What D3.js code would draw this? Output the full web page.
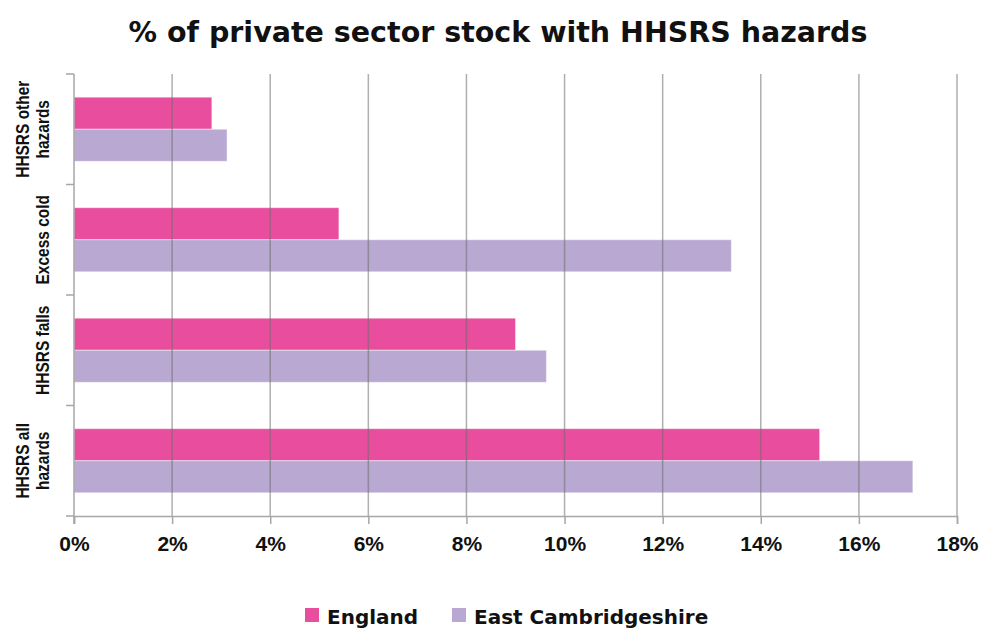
<!DOCTYPE html>
<html>
<head>
<meta charset="utf-8">
<script src="https://cdn.jsdelivr.net/npm/d3@7"></script>
<style>
  body { margin: 0; background: #fff; }
  svg { display: block; }
  .title { font-family: "DejaVu Sans", Verdana, sans-serif; font-weight: bold; }
  .tick text { font-family: "Liberation Sans", Arial, sans-serif; font-weight: bold; }
  .legend text { font-family: "DejaVu Sans", Verdana, sans-serif; font-weight: bold; }
</style>
</head>
<body>
<div id="chart"></div>
<script>
// categories, top to bottom
const categories = ["HHSRS other hazards", "Excess cold", "HHSRS falls", "HHSRS all hazards"];
const seriesNames = ["England", "East Cambridgeshire"];
const england = [2.81, 5.4, 9.0, 15.2];
const eastCambs = [3.12, 13.4, 9.63, 17.1];
const xTicks = [0, 2, 4, 6, 8, 10, 12, 14, 16, 18];
const colors = ["#e84d9e", "#b9a8d1"];

const W = 982, H = 629;
const margin = {top: 74, right: 25, bottom: 113, left: 74};
const width = W - margin.left - margin.right,
      height = H - margin.top - margin.bottom;

const svg = d3.select("#chart").append("svg")
    .attr("width", W)
    .attr("height", H);

svg.append("text")
    .attr("class", "title")
    .attr("x", 498)
    .attr("y", 42)
    .attr("text-anchor", "middle")
    .attr("font-size", 28.5)
    .attr("fill", "#111")
    .text("% of private sector stock with HHSRS hazards");

const g = svg.append("g")
    .attr("transform", "translate(" + margin.left + "," + margin.top + ")");

const x = d3.scaleLinear()
    .domain([0, 18])
    .range([0, width]);

const y = d3.scaleBand()
    .domain(categories)
    .range([0, height])
    .paddingInner(0.42)
    .paddingOuter(0.21);

const ySub = d3.scaleBand()
    .domain(seriesNames)
    .range([0, y.bandwidth()]);

const rows = categories.map((c, i) => ({cat: c, values: [england[i], eastCambs[i]]}));

// bars
const groups = g.selectAll(".cat")
    .data(rows)
    .join("g")
      .attr("class", "cat")
      .attr("transform", d => "translate(0," + y(d.cat) + ")");

groups.selectAll("rect")
    .data(d => d.values.map((v, j) => ({name: seriesNames[j], value: v, j: j})))
    .join("rect")
      .attr("x", x(0))
      .attr("y", d => ySub(d.name))
      .attr("width", d => x(d.value) - x(0))
      .attr("height", ySub.bandwidth())
      .attr("fill", d => colors[d.j])
      .attr("stroke", "rgba(255,255,255,0.45)")
      .attr("stroke-width", 1);

// gridlines drawn on top of the bars
g.append("g")
    .selectAll("line")
    .data(xTicks.slice(1))
    .join("line")
      .attr("x1", d => x(d)).attr("x2", d => x(d))
      .attr("y1", 0).attr("y2", height)
      .attr("stroke", "rgba(110,110,110,0.55)")
      .attr("stroke-width", 1.5);

// x axis
const xAxis = g.append("g")
    .attr("transform", "translate(0," + height + ")")
    .call(d3.axisBottom(x)
      .tickValues(xTicks)
      .tickSize(8)
      .tickPadding(12)
      .tickFormat(d => d + "%"));
xAxis.select(".domain").attr("stroke", "#a6a6a6").attr("stroke-width", 1.5);
xAxis.selectAll(".tick line").attr("stroke", "#a6a6a6").attr("stroke-width", 1.5);
xAxis.selectAll(".tick text").attr("font-size", 21).attr("fill", "#111");

// y axis: tick marks at the category boundaries
const yAxis = g.append("g");
yAxis.append("line")
    .attr("x1", 0).attr("x2", 0)
    .attr("y1", 0).attr("y2", height + 8)
    .attr("stroke", "#a6a6a6").attr("stroke-width", 1.5);
const bounds = categories.map(c => y(c) - y.step() * y.paddingInner() / 2);
bounds.push(height);
bounds[0] = 0;
yAxis.selectAll(".ytick")
    .data(bounds)
    .join("line")
      .attr("class", "ytick")
      .attr("x1", -8).attr("x2", 0)
      .attr("y1", d => d).attr("y2", d => d)
      .attr("stroke", "#a6a6a6").attr("stroke-width", 1.5);

// category labels, rotated, wrapped onto two lines where needed
const labelLines = {
  "HHSRS other hazards": ["HHSRS other", "hazards"],
  "Excess cold": ["Excess cold"],
  "HHSRS falls": ["HHSRS falls"],
  "HHSRS all hazards": ["HHSRS all", "hazards"]
};
categories.forEach(c => {
  const cy = y(c) + y.bandwidth() / 2;
  const lines = labelLines[c];
  const t = g.append("text")
      .attr("transform", "translate(-31," + cy + ") rotate(-90) scale(0.86,1)")
      .attr("text-anchor", "middle")
      .attr("font-family", "'Liberation Sans', Arial, sans-serif")
      .attr("font-weight", "bold")
      .attr("font-size", 18)
      .attr("fill", "#111");
  lines.forEach((l, i) => {
    t.append("tspan")
      .attr("x", 0)
      .attr("y", (0.35 - (lines.length - 1 - i) * 1.15) + "em")
      .text(l);
  });
});

// legend
const legend = svg.append("g").attr("class", "legend");
const legendX = [305, 452];
seriesNames.forEach((n, i) => {
  legend.append("rect")
    .attr("x", legendX[i]).attr("y", 608)
    .attr("width", 14).attr("height", 14)
    .attr("fill", colors[i]);
  legend.append("text")
    .attr("x", legendX[i] + 22).attr("y", 624)
    .attr("font-size", 20)
    .attr("fill", "#111")
    .text(n);
});
</script>
</body>
</html>
